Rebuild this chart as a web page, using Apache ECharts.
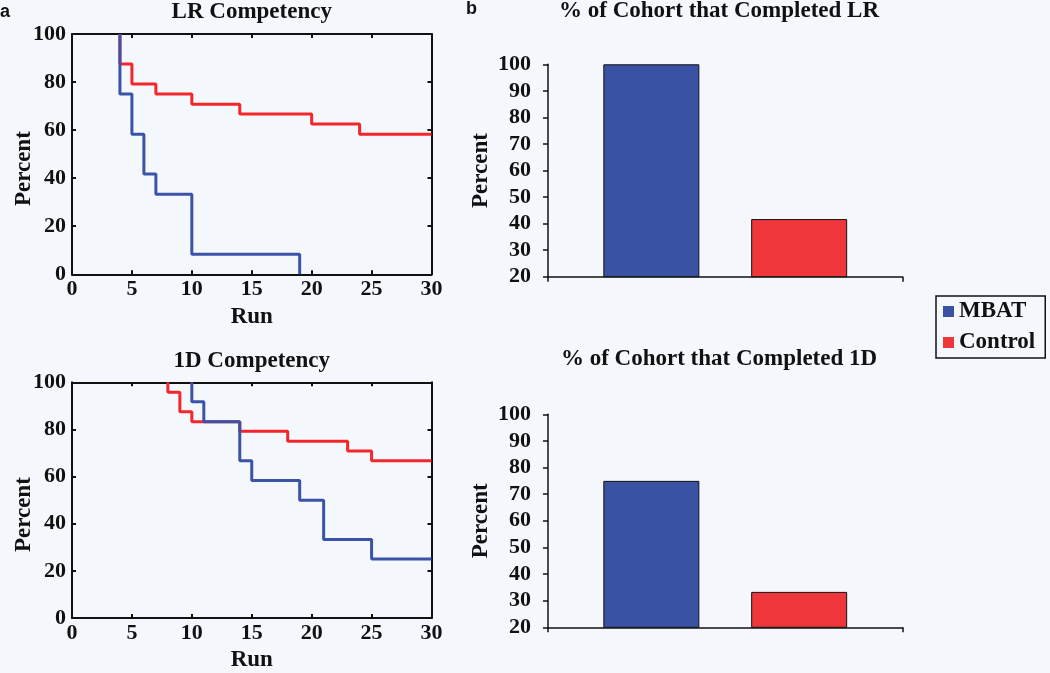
<!DOCTYPE html>
<html>
<head>
<meta charset="utf-8">
<script src="https://cdn.jsdelivr.net/npm/echarts@6/dist/echarts.min.js"></script>
<style>
  html, body { margin: 0; padding: 0; background: #f4f8fc; }
  #chart { width: 1050px; height: 673px; }
</style>
</head>
<body>
<div id="chart"></div>
<script>
// ---- data ----
const lrRunsMBAT = [4, 4, 5, 6, 7, 10, 19];
const lrPctMBAT = [100, 75, 58.3, 41.7, 33.3, 8.3, 0];
const lrRunsControl = [4, 4, 5, 7, 10, 14, 20, 24, 30];
const lrPctControl = [100, 87.5, 79.2, 75, 70.8, 66.7, 62.5, 58.3, 58.3];
const d1RunsMBAT = [10, 10, 11, 14, 15, 19, 21, 25, 30];
const d1PctMBAT = [100, 91.7, 83.3, 66.7, 58.3, 50, 33.3, 25, 25];
const d1RunsControl = [8, 8, 9, 10, 14, 18, 23, 25, 30];
const d1PctControl = [100, 95.8, 87.5, 83.3, 79.2, 75, 70.8, 66.7, 66.7];
const groups = ['MBAT', 'Control'];
const completedLR = [100, 41.7];
const completed1D = [75, 33.3];
const lineTitles = ['LR Competency', '1D Competency'];
const barTitles = ['% of Cohort that Completed LR', '% of Cohort that Completed 1D'];
const panelLabels = ['a', 'b'];
const runAxis = { min: 0, max: 30, interval: 5 };
const pctAxis = { min: 0, max: 100, interval: 20 };
const barPctAxis = { min: 20, max: 100, interval: 10 };

// ---- styles ----
const serif = '"Liberation Serif", "Times New Roman", serif';
const blueLine = '#3a52a8', redLine = '#f2262b';
const blueBar = '#3a52a3', redBar = '#ef363b';
const black = '#111';

function pairs(xs, ys) { return xs.map((x, i) => [x, ys[i]]); }

const tickFont = { fontFamily: serif, fontWeight: 'bold', fontSize: 22, color: black };
const nameFont = { fontFamily: serif, fontWeight: 'bold', fontSize: 23, color: black };

function frameX(gridIndex, position, labelled, name) {
  return {
    type: 'value', gridIndex, position, ...runAxis,
    axisLine: { show: true, onZero: false, lineStyle: { color: black, width: 2 } },
    axisTick: { show: true, inside: true, length: 4, lineStyle: { color: black, width: 2 } },
    axisLabel: labelled ? { ...tickFont, margin: 4 } : { show: false },
    splitLine: { show: false },
    name: name, nameLocation: 'middle', nameMoveOverlap: false,
    nameGap: position === 'bottom' ? 31 : 10,
    nameTextStyle: nameFont
  };
}
function frameY(gridIndex, position, labelled) {
  return {
    type: 'value', gridIndex, position, ...pctAxis,
    axisLine: { show: true, onZero: false, lineStyle: { color: black, width: 2 } },
    axisTick: { show: true, inside: true, length: 4, lineStyle: { color: black, width: 2 } },
    axisLabel: labelled ? { ...tickFont, margin: 6 } : { show: false },
    splitLine: { show: false },
    name: labelled ? 'Percent' : '', nameLocation: 'middle', nameGap: 36, nameMoveOverlap: false,
    nameTextStyle: { ...nameFont, padding: [0, 29, 0, 0] }
  };
}
function barX(gridIndex, cat) {
  return {
    type: 'category', gridIndex, data: [cat], boundaryGap: true,
    axisLine: { show: true, onZero: false, lineStyle: { color: black, width: 1.5 } },
    axisTick: { show: true, length: 5, lineStyle: { color: black, width: 1.5 } },
    axisLabel: { show: false }
  };
}
function barY(gridIndex) {
  return {
    type: 'value', gridIndex, ...barPctAxis,
    axisLine: { show: true, onZero: false, lineStyle: { color: black, width: 1.5 } },
    axisTick: { show: true, length: 5, lineStyle: { color: black, width: 1.5 } },
    axisLabel: { ...tickFont, margin: 17 },
    splitLine: { show: false },
    name: 'Percent', nameLocation: 'middle', nameGap: 55, nameMoveOverlap: false, nameTextStyle: nameFont
  };
}
function barSeries(name, axisIndex, value, color) {
  return {
    type: 'bar', name, xAxisIndex: axisIndex, yAxisIndex: axisIndex,
    data: [value], barWidth: 96, barGap: '54%', clip: true,
    itemStyle: { color, borderColor: black, borderWidth: 1 }
  };
}
function stepSeries(name, axisIndex, xs, ys, color) {
  return {
    type: 'line', name, xAxisIndex: axisIndex, yAxisIndex: axisIndex,
    data: pairs(xs, ys), step: 'end', showSymbol: false, symbol: 'none',
    lineStyle: { color, width: 3 }, itemStyle: { color }
  };
}

const chart = echarts.init(document.getElementById('chart'));
chart.setOption({
  backgroundColor: '#f4f8fc',
  animation: false,
  grid: [
    { left: 72, top: 32.5, width: 359.5, height: 241.8 },
    { left: 72, top: 382.3, width: 359.5, height: 241.4 },
    { left: 548, top: 64.3, width: 354.5, height: 212.4 },
    { left: 548, top: 414.3, width: 354.5, height: 213 }
  ],
  xAxis: [
    frameX(0, 'bottom', true, 'Run'),
    frameX(0, 'top', false, lineTitles[0]),
    frameX(1, 'bottom', true, 'Run'),
    frameX(1, 'top', false, lineTitles[1]),
    barX(2, 'LR'),
    barX(3, '1D')
  ],
  yAxis: [
    frameY(0, 'left', true),
    frameY(0, 'right', false),
    frameY(1, 'left', true),
    frameY(1, 'right', false),
    barY(2),
    barY(3)
  ],
  legend: {
    data: groups, orient: 'vertical', left: 936, top: 296,
    padding: [4, 10, 4, 7], itemGap: 8, itemWidth: 11, itemHeight: 11, itemTextGap: 12,
    icon: 'rect', borderColor: black, borderWidth: 1.5, backgroundColor: '#f4f8fc',
    itemStyle: { borderWidth: 0 },
    textStyle: { fontFamily: serif, fontWeight: 'bold', fontSize: 23, lineHeight: 22, color: black }
  },
  graphic: [
    { type: 'text', left: 0, top: 3, style: { text: panelLabels[0], font: 'bold 18px "Liberation Sans", Arial, sans-serif', fill: black } },
    { type: 'text', left: 466, top: 0, style: { text: panelLabels[1], font: 'bold 18px "Liberation Sans", Arial, sans-serif', fill: black } },
    { type: 'text', x: 719, y: 11, style: { text: barTitles[0], font: 'bold 23px "Liberation Serif", serif', fill: black, textAlign: 'center', textVerticalAlign: 'middle' } },
    { type: 'text', x: 719, y: 359, style: { text: barTitles[1], font: 'bold 23px "Liberation Serif", serif', fill: black, textAlign: 'center', textVerticalAlign: 'middle' } }
  ],
  series: [
    barSeries(groups[0], 4, completedLR[0], blueBar),
    barSeries(groups[1], 4, completedLR[1], redBar),
    barSeries(groups[0], 5, completed1D[0], blueBar),
    barSeries(groups[1], 5, completed1D[1], redBar),
    stepSeries(groups[1], 0, lrRunsControl, lrPctControl, redLine),
    stepSeries(groups[0], 0, lrRunsMBAT, lrPctMBAT, blueLine),
    stepSeries(groups[1], 2, d1RunsControl, d1PctControl, redLine),
    stepSeries(groups[0], 2, d1RunsMBAT, d1PctMBAT, blueLine)
  ]
});
</script>
</body>
</html>
